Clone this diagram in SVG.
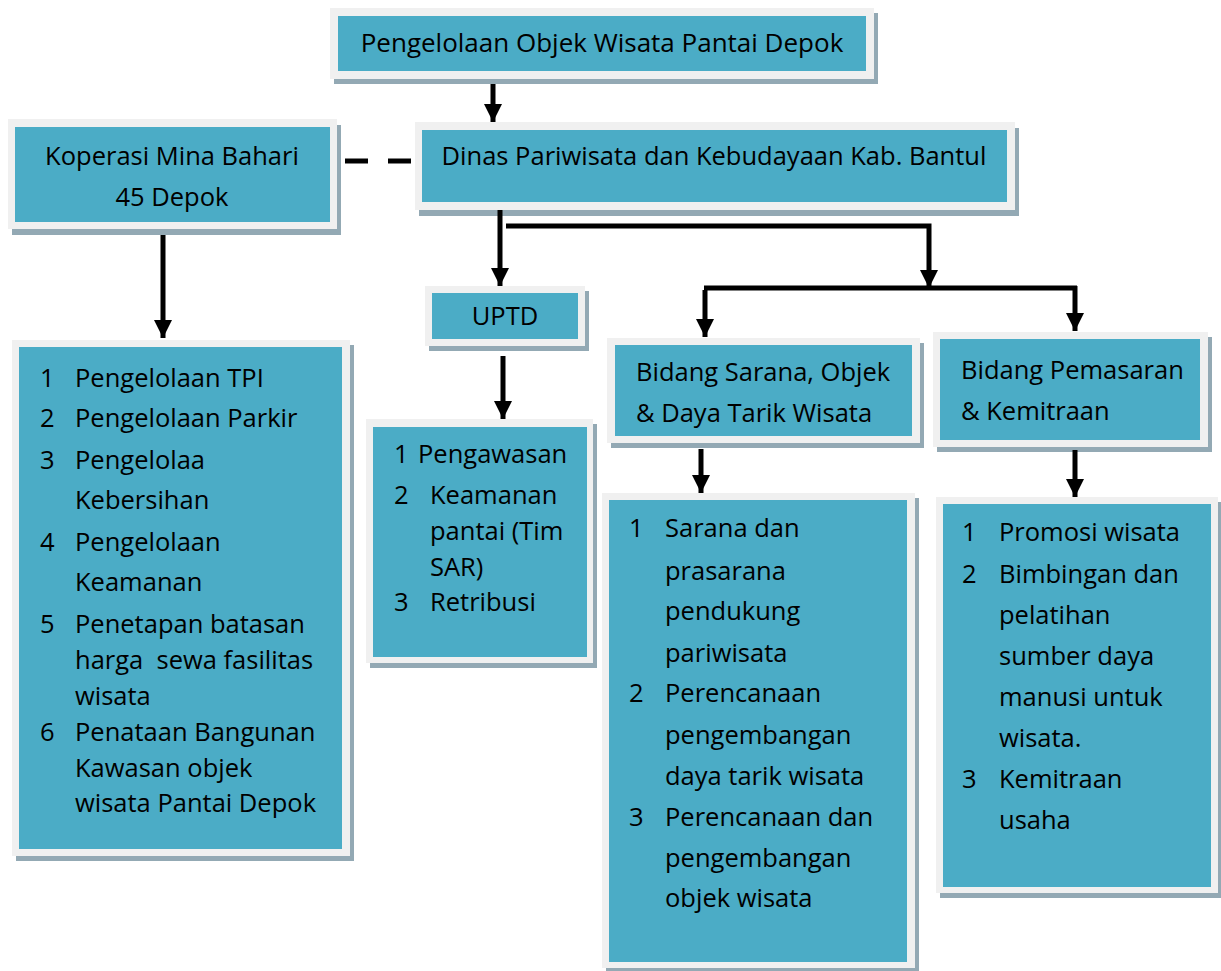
<svg xmlns="http://www.w3.org/2000/svg" width="1221" height="971" viewBox="0 0 1221 971">
<style>
.sh{fill:#93a9b4}
.fr{fill:#f0f0f0}
.bx{fill:#4bacc6}
text{font-family:"Open Sans","Noto Sans",sans-serif;font-size:25.5px;fill:#000;white-space:pre}
.c{text-anchor:middle}
.t{font-size:26px}
.ln{stroke:#000;stroke-width:5;fill:none}
</style>
<defs>
<marker id="ah" markerUnits="userSpaceOnUse" markerWidth="18" markerHeight="18" viewBox="0 0 18 18" refX="18" refY="9" orient="auto">
<path d="M0,0 L18,9 L0,18 Z" fill="#000"/>
</marker>
</defs>
<rect width="1221" height="971" fill="#fff"/>

<g id="top">
<rect class="sh" x="334" y="13" width="544" height="71"/>
<rect class="fr" x="330" y="8" width="544" height="71"/>
<rect class="bx" x="338" y="16" width="528" height="55"/>
<text class="c t" x="602" y="52">Pengelolaan Objek Wisata Pantai Depok</text>
</g>

<g id="koperasi">
<rect class="sh" x="12" y="125" width="329" height="110"/>
<rect class="fr" x="8" y="119" width="329" height="110"/>
<rect class="bx" x="15" y="127" width="315" height="95"/>
<text class="c" x="172" y="165">Koperasi Mina Bahari</text>
<text class="c" x="172" y="206">45 Depok</text>
</g>

<g id="dinas">
<rect class="sh" x="419" y="128" width="600" height="88"/>
<rect class="fr" x="415" y="122" width="600" height="88"/>
<rect class="bx" x="422" y="130" width="585" height="72"/>
<text class="c" x="714" y="165">Dinas Pariwisata dan Kebudayaan Kab. Bantul</text>
</g>

<g id="uptd">
<rect class="sh" x="429" y="291" width="160" height="60"/>
<rect class="fr" x="425" y="286" width="160" height="60"/>
<rect class="bx" x="432" y="293" width="146" height="46"/>
<text class="c" x="505" y="325">UPTD</text>
</g>

<g id="koperasi-list">
<rect class="sh" x="16" y="345" width="338" height="516"/>
<rect class="fr" x="12" y="340" width="338" height="516"/>
<rect class="bx" x="19" y="347" width="323" height="502"/>
<text x="40" y="387">1</text><text x="75" y="387">Pengelolaan TPI</text>
<text x="40" y="427">2</text><text x="75" y="427">Pengelolaan Parkir</text>
<text x="40" y="469">3</text><text x="75" y="469">Pengelolaa</text>
<text x="75" y="509">Kebersihan</text>
<text x="40" y="551">4</text><text x="75" y="551">Pengelolaan</text>
<text x="75" y="591">Keamanan</text>
<text x="40" y="633">5</text><text x="75" y="633">Penetapan batasan</text>
<text x="75" y="669">harga  sewa fasilitas</text>
<text x="75" y="705">wisata</text>
<text x="40" y="741">6</text><text x="75" y="741">Penataan Bangunan</text>
<text x="75" y="777">Kawasan objek</text>
<text x="75" y="812">wisata Pantai Depok</text>
</g>

<g id="uptd-list">
<rect class="sh" x="370" y="424" width="227" height="244"/>
<rect class="fr" x="366" y="419" width="227" height="244"/>
<rect class="bx" x="373" y="427" width="214" height="230"/>
<text x="394" y="463">1</text><text x="418" y="463">Pengawasan</text>
<text x="394" y="504">2</text><text x="430" y="504">Keamanan</text>
<text x="430" y="540">pantai (Tim</text>
<text x="430" y="576">SAR)</text>
<text x="394" y="611">3</text><text x="430" y="611">Retribusi</text>
</g>

<g id="sarana">
<rect class="sh" x="611" y="343" width="313" height="105"/>
<rect class="fr" x="607" y="338" width="313" height="105"/>
<rect class="bx" x="615" y="345" width="297" height="91"/>
<text x="636" y="381">Bidang Sarana, Objek</text>
<text x="636" y="422">&amp; Daya Tarik Wisata</text>
</g>

<g id="sarana-list">
<rect class="sh" x="606" y="498" width="313" height="475"/>
<rect class="fr" x="602" y="493" width="313" height="475"/>
<rect class="bx" x="609" y="500" width="298" height="462"/>
<text x="629" y="537">1</text><text x="665" y="537">Sarana dan</text>
<text x="665" y="580">prasarana</text>
<text x="665" y="620">pendukung</text>
<text x="665" y="662">pariwisata</text>
<text x="629" y="702">2</text><text x="665" y="702">Perencanaan</text>
<text x="665" y="744">pengembangan</text>
<text x="665" y="785">daya tarik wisata</text>
<text x="629" y="826">3</text><text x="665" y="826">Perencanaan dan</text>
<text x="665" y="867">pengembangan</text>
<text x="665" y="907">objek wisata</text>
</g>

<g id="pemasaran">
<rect class="sh" x="937" y="337" width="275" height="115"/>
<rect class="fr" x="933" y="332" width="275" height="115"/>
<rect class="bx" x="940" y="339" width="260" height="101"/>
<text x="961" y="379">Bidang Pemasaran</text>
<text x="961" y="420">&amp; Kemitraan</text>
</g>

<g id="pemasaran-list">
<rect class="sh" x="940" y="502" width="282" height="396"/>
<rect class="fr" x="936" y="497" width="282" height="396"/>
<rect class="bx" x="943" y="504" width="268" height="383"/>
<text x="962" y="541">1</text><text x="999" y="541">Promosi wisata</text>
<text x="962" y="583">2</text><text x="999" y="583">Bimbingan dan</text>
<text x="999" y="624">pelatihan</text>
<text x="999" y="665">sumber daya</text>
<text x="999" y="706">manusi untuk</text>
<text x="999" y="747">wisata.</text>
<text x="962" y="788">3</text><text x="999" y="788">Kemitraan</text>
<text x="999" y="829">usaha</text>
</g>

<g id="connectors">
<line class="ln" x1="493" y1="84" x2="493" y2="122" marker-end="url(#ah)"/>
<line class="ln" x1="345" y1="161" x2="368" y2="161"/>
<line class="ln" x1="388" y1="161" x2="411" y2="161"/>
<line class="ln" x1="163" y1="235" x2="163" y2="338" marker-end="url(#ah)"/>
<line class="ln" x1="500" y1="210" x2="500" y2="286" marker-end="url(#ah)"/>
<polyline class="ln" points="506,226 929,226 929,288" marker-end="url(#ah)"/>
<line class="ln" x1="704" y1="288" x2="1077" y2="288"/>
<line class="ln" x1="1075" y1="286" x2="1075" y2="331" marker-end="url(#ah)"/>
<line class="ln" x1="705" y1="290" x2="705" y2="337" marker-end="url(#ah)"/>
<line class="ln" x1="503" y1="356" x2="503" y2="419" marker-end="url(#ah)"/>
<line class="ln" x1="701" y1="449" x2="701" y2="493" marker-end="url(#ah)"/>
<line class="ln" x1="1075" y1="450" x2="1075" y2="497" marker-end="url(#ah)"/>
</g>
</svg>
